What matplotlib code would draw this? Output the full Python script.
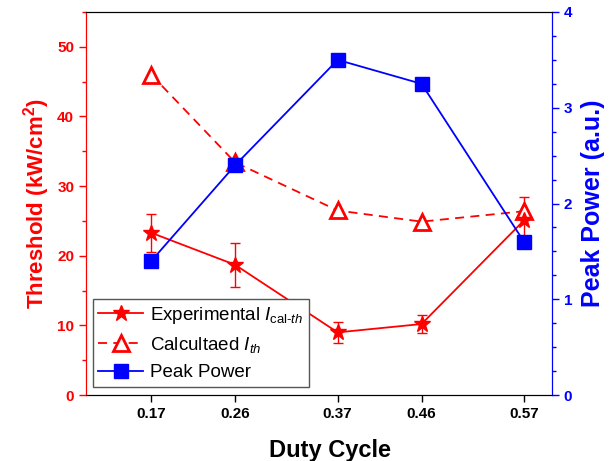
import matplotlib
matplotlib.use('Agg')
import matplotlib.pyplot as plt
from matplotlib.ticker import MultipleLocator, NullLocator

plt.rcParams['font.family'] = ['Liberation Sans', 'DejaVu Sans']
plt.rcParams['mathtext.fontset'] = 'custom'
plt.rcParams['mathtext.rm'] = 'Liberation Sans'
plt.rcParams['mathtext.it'] = 'Liberation Sans:italic'
plt.rcParams['mathtext.bf'] = 'Liberation Sans:bold'

duty = [0.17, 0.26, 0.37, 0.46, 0.57]
duty_labels = ['0.17', '0.26', '0.37', '0.46', '0.57']
exp_th = [23.3, 18.7, 9.0, 10.2, 25.1]
exp_err = [2.7, 3.2, 1.5, 1.3, 3.3]
calc_th = [46.0, 33.4, 26.5, 24.9, 26.4]
peak_power = [1.40, 2.40, 3.50, 3.25, 1.60]

RED = '#ff0000'
BLUE = '#0000ff'

fig = plt.figure(figsize=(6.1, 4.61), dpi=100)
ax = fig.add_axes([0.141, 0.143, 0.764, 0.831])
ax2 = ax.twinx()

eb = ax.errorbar(duty, exp_th, yerr=exp_err, color=RED, marker='*', ms=12,
                 lw=1.3, elinewidth=1, capsize=3.5, capthick=1)
l1 = eb[0]
l1.set_label(r'Experimental $I_{\mathrm{cal}\text{-}th}$')
l2, = ax.plot(duty, calc_th, color=RED, ls=(0, (5, 3.5)), lw=1.3, marker='^',
              ms=12, mfc='white', mec=RED, mew=2,
              label=r'Calcultaed $I_{th}$')
l3, = ax2.plot(duty, peak_power, color=BLUE, lw=1.3, marker='s', ms=10,
               label='Peak Power')

ax.set_xlim(0.1, 0.6)
ax.set_ylim(0, 55)
ax2.set_ylim(0, 4)

ax.set_xticks(duty)
ax.set_xticklabels(duty_labels)
ax.xaxis.set_minor_locator(NullLocator())
ax.yaxis.set_major_locator(MultipleLocator(10))
ax.yaxis.set_minor_locator(MultipleLocator(5))
ax2.yaxis.set_major_locator(MultipleLocator(1))
ax2.yaxis.set_minor_locator(MultipleLocator(0.25))

ax.tick_params(axis='x', direction='out', length=5, width=1, labelsize=11)
ax.tick_params(axis='y', which='major', colors=RED, length=5, width=1, labelsize=11)
ax.tick_params(axis='y', which='minor', colors=RED, length=3, width=1)
ax2.tick_params(axis='y', which='major', colors=BLUE, length=5, width=1, labelsize=11)
ax2.tick_params(axis='y', which='minor', colors=BLUE, length=3, width=1)
for lab in ax.get_xticklabels() + ax.get_yticklabels() + ax2.get_yticklabels():
    lab.set_fontweight('bold')

for a in (ax, ax2):
    a.spines['left'].set_color(RED)
    a.spines['right'].set_color(BLUE)
    a.spines['top'].set_color('black')
    a.spines['bottom'].set_color('black')

ax.set_xlabel('Duty Cycle', fontsize=17, fontweight='bold')
ax.xaxis.set_label_coords(0.524, -0.115)
ax.set_ylabel(r'Threshold (kW/cm$^\mathbf{2}$)', fontsize=16, fontweight='bold',
              color=RED, labelpad=4)
ax2.set_ylabel('Peak Power (a.u.)', fontsize=18, fontweight='bold',
               color=BLUE, labelpad=6)

leg = ax2.legend([l1, l2, l3], [l1.get_label(), l2.get_label(), l3.get_label()],
                 loc='lower left', bbox_to_anchor=(0.014, 0.021), fontsize=13.5,
                 fancybox=False, framealpha=1, edgecolor='#555555',
                 handlelength=2.4, borderpad=0.3, labelspacing=0.5,
                 handletextpad=0.35, borderaxespad=0)
leg.get_frame().set_linewidth(1)

fig.savefig('out.png', dpi=100)
